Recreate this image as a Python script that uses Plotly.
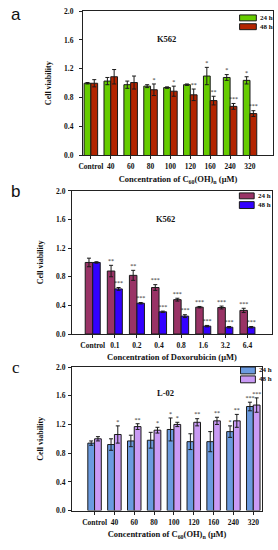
import plotly.graph_objects as go

# ---------------- data ----------------
a_cats = ["Control", "40", "60", "80", "100", "120", "160", "240", "320"]
a_24 = [1.00, 1.03, 0.98, 0.96, 0.94, 0.98, 1.10, 1.08, 1.04]
a_24_err = [0.01, 0.05, 0.05, 0.02, 0.01, 0.01, 0.12, 0.04, 0.05]
a_48 = [1.00, 1.09, 1.01, 0.91, 0.89, 0.84, 0.76, 0.68, 0.58]
a_48_err = [0.05, 0.10, 0.09, 0.08, 0.07, 0.08, 0.06, 0.04, 0.04]
a_24_sig = ["", "", "", "", "", "", "*", "*", "*"]
a_48_sig = ["", "", "", "*", "*", "**", "**", "***", "***"]

b_cats = ["Control", "0.1", "0.2", "0.4", "0.8", "1.6", "3.2", "6.4"]
b_24 = [1.00, 0.88, 0.82, 0.65, 0.48, 0.375, 0.37, 0.33]
b_24_err = [0.06, 0.08, 0.07, 0.04, 0.02, 0.01, 0.02, 0.03]
b_48 = [1.00, 0.63, 0.43, 0.31, 0.25, 0.11, 0.095, 0.095]
b_48_err = [0.01, 0.02, 0.01, 0.01, 0.02, 0.01, 0.01, 0.01]
b_24_sig = ["", "**", "**", "***", "***", "***", "***", "***"]
b_48_sig = ["", "***", "***", "***", "***", "***", "***", "***"]

c_cats = ["Control", "40", "60", "80", "100", "120", "160", "240", "320"]
c_24 = [0.94, 0.92, 0.97, 0.98, 1.13, 0.96, 0.96, 1.10, 1.45]
c_24_err = [0.03, 0.08, 0.08, 0.11, 0.16, 0.11, 0.14, 0.08, 0.06]
c_48 = [1.00, 1.06, 1.17, 1.12, 1.20, 1.23, 1.25, 1.25, 1.47]
c_48_err = [0.03, 0.12, 0.04, 0.04, 0.03, 0.05, 0.05, 0.09, 0.10]
c_24_sig = ["", "", "", "", "*", "", "", "*", "***"]
c_48_sig = ["", "*", "**", "*", "*", "**", "**", "**", "***"]

series_names = ["24 h", "48 h"]
y_ticks = [0.0, 0.4, 0.8, 1.2, 1.6, 2.0]

# ---------------- styling ----------------
SERIF = "Liberation Serif"
W = 0.34
panels = [
    dict(cats=a_cats, v24=a_24, e24=a_24_err, v48=a_48, e48=a_48_err, s24=a_24_sig, s48=a_48_sig,
         colors=["#66CC00", "#B32400"],
         xdom=[0.288, 0.982], ydom=[0.72, 0.987], xr=[-0.4, 9.16], tls=4,
         xtitle="Concentration of C<sub>60</sub>(OH)<sub>n</sub> (μM)", label="K562", lab_xy=(0.44, 0.857),
         leg_x=(0.824, 0.912), leg_y=[(0.973, 0.932), (0.912, 0.871)]),
    dict(cats=b_cats, v24=b_24, e24=b_24_err, v48=b_48, e48=b_48_err, s24=b_24_sig, s48=b_48_sig,
         colors=["#993366", "#3300FF"],
         xdom=[0.248, 0.978], ydom=[0.39, 0.6545], xr=[-0.94, 8.11], tls=1,
         xtitle="Concentration of Doxorubicin (μM)", label="K562", lab_xy=(0.47, 0.85),
         leg_x=(0.837, 0.911), leg_y=[(0.986, 0.945), (0.925, 0.877)]),
    dict(cats=c_cats, v24=c_24, e24=c_24_err, v48=c_48, e48=c_48_err, s24=c_24_sig, s48=c_48_sig,
         colors=["#6B9BE0", "#C99AF5"],
         xdom=[0.248, 0.9424], ydom=[0.0636, 0.329], xr=[-1.14, 8.45], tls=1,
         xtitle="Concentration of C<sub>60</sub>(OH)<sub>n</sub> (μM)", label="L-02", lab_xy=(0.49, 0.87),
         leg_x=(0.886, 0.964), leg_y=[(1.0, 0.952), (0.938, 0.89)]),
]

fig = go.Figure()
layout = dict(
    width=278, height=550, margin=dict(l=0, r=0, t=0, b=0),
    paper_bgcolor="white", plot_bgcolor="white", showlegend=False,
    font=dict(family=SERIF, color="#111"), annotations=[], shapes=[],
)

for i, p in enumerate(panels):
    sfx = "" if i == 0 else str(i + 1)
    xa, ya = "x" + sfx, "y" + sfx
    idx = list(range(len(p["cats"])))
    for k, (vals, errs, off) in enumerate([
        (p["v24"], p["e24"], -W),
        (p["v48"], p["e48"], 0.0),
    ]):
        fig.add_trace(go.Bar(
            x=idx, y=vals, width=W, offset=off, name=series_names[k],
            marker=dict(color=p["colors"][k], line=dict(color="#1a1a1a", width=1)),
            error_y=dict(type="data", array=errs, color="#1a1a1a", thickness=1, width=2),
            xaxis=xa, yaxis=ya,
        ))
    # significance marks above error bars (only where a mark exists)
    for vals, errs, sig, shift in [
        (p["v24"], p["e24"], p["s24"], -W / 2),
        (p["v48"], p["e48"], p["s48"], W / 2),
    ]:
        keep = [j for j in idx if sig[j]]
        fig.add_trace(go.Scatter(
            x=[j + shift for j in keep], y=[vals[j] + errs[j] + 0.01 for j in keep],
            text=[sig[j] for j in keep], mode="text", textposition="top center",
            textfont=dict(family=SERIF, size=6, color="#222"),
            showlegend=False, hoverinfo="skip", xaxis=xa, yaxis=ya,
        ))
    layout["xaxis" + sfx] = dict(
        domain=p["xdom"], anchor=ya, range=p["xr"],
        tickmode="array", tickvals=idx, ticktext=p["cats"], tickangle=0,
        ticks="outside", ticklen=3, tickwidth=1, tickcolor="#222",
        showline=True, linecolor="#222", linewidth=1, mirror=True,
        showgrid=False, zeroline=False, ticklabelstandoff=1,
        tickfont=dict(family=SERIF, size=7.5, color="#111", weight="bold"),
        title=dict(text=p["xtitle"], standoff=5,
                   font=dict(family=SERIF, size=8.5, color="#111", weight="bold")),
    )
    layout["yaxis" + sfx] = dict(
        domain=p["ydom"], anchor=xa, range=[0, 2.0],
        tickmode="array", tickvals=y_ticks, tickformat=".1f",
        ticks="outside", ticklen=3, tickwidth=1, tickcolor="#222",
        showline=True, linecolor="#222", linewidth=1, mirror=True,
        showgrid=False, zeroline=False, ticklabelstandoff=p["tls"],
        tickfont=dict(family=SERIF, size=7.5, color="#111", weight="bold"),
        title=dict(text="Cell viability", standoff=11,
                   font=dict(family=SERIF, size=8, color="#111", weight="bold")),
    )
    # in-plot label
    layout["annotations"].append(dict(
        text=p["label"], xref=xa + " domain", yref=ya + " domain",
        x=p["lab_xy"][0], y=p["lab_xy"][1], showarrow=False,
        font=dict(family=SERIF, size=8.5, color="#111", weight="bold"),
    ))
    # legend key (swatches + labels)
    for k in range(2):
        y0, y1 = p["leg_y"][k]
        layout["shapes"].append(dict(
            type="rect", xref=xa + " domain", yref=ya + " domain",
            x0=p["leg_x"][0], x1=p["leg_x"][1], y0=y1, y1=y0,
            fillcolor=p["colors"][k], line=dict(color="#1a1a1a", width=1),
        ))
        layout["annotations"].append(dict(
            text=series_names[k], xref=xa + " domain", yref=ya + " domain",
            x=p["leg_x"][1] + 0.008, y=(y0 + y1) / 2, xanchor="left", yanchor="middle",
            showarrow=False, font=dict(family=SERIF, size=7, color="#111", weight="bold"),
        ))

for letter, ypos, fam in [("a", 1 - 11 / 550, "Liberation Sans"),
                          ("b", 1 - 191 / 550, "Liberation Sans"),
                          ("c", 1 - 370 / 550, SERIF)]:
    layout["annotations"].append(dict(
        text=letter, xref="paper", yref="paper", x=0.043, y=ypos, xanchor="center", yanchor="middle",
        showarrow=False, font=dict(family=fam, size=17, color="#111"),
    ))

fig.update_layout(**layout)
fig.write_html(
    "out.html",
    config={"displayModeBar": False, "staticPlot": True},
    post_script="document.body.style.margin='0px';document.body.style.overflow='hidden';",
)
